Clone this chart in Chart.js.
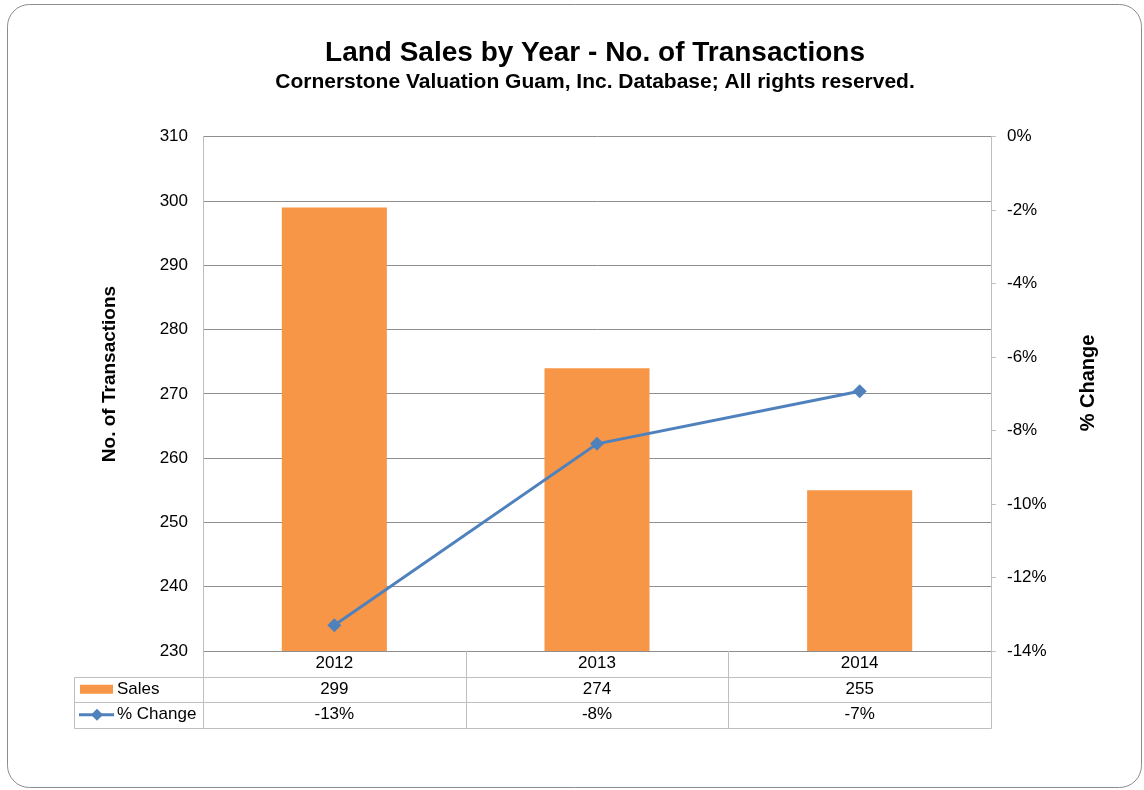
<!DOCTYPE html>
<html>
<head>
<meta charset="utf-8">
<script src="https://cdn.jsdelivr.net/npm/chart.js@4/dist/chart.umd.min.js"></script>
<style>
  html, body { margin: 0; padding: 0; background: #fff; }
  #wrap { width: 1144px; height: 790px; position: relative; }
</style>
</head>
<body>
<div id="wrap"><canvas id="c" width="1144" height="790"></canvas></div>
<script>
const years = ['2012', '2013', '2014'];
const sales = [299, 274, 255];
const pctChange = [-13.3, -8.36, -6.93];
const pctLabels = ['-13%', '-8%', '-7%'];
const seriesNames = ['Sales', '% Change'];

const ORANGE = '#F79646';
const BLUE = '#4F81BD';
const FONT = '"Liberation Sans", Arial, sans-serif';

// table rows under the plot (category row, Sales, % Change)
const tableLeft = 74;
const rowH = 25.5;

const decor = {
    id: 'decor',
    beforeDraw(chart) {
        const ctx = chart.ctx;
        ctx.save();
        ctx.strokeStyle = '#8c8c8c';
        ctx.lineWidth = 1;
        ctx.beginPath();
        ctx.roundRect(7.5, 4.5, 1134, 783, 22);
        ctx.stroke();
        ctx.restore();
    },
    afterDraw(chart) {
        const ctx = chart.ctx;
        const area = chart.chartArea;
        const x = chart.scales.x;
        const n = years.length;
        const colW = (area.right - area.left) / n;
        const top = area.bottom;

        ctx.save();
        // axis titles
        ctx.fillStyle = '#000';
        ctx.textAlign = 'center';
        ctx.textBaseline = 'middle';
        ctx.font = 'bold 19px ' + FONT;
        ctx.translate(110, 374);
        ctx.rotate(-Math.PI / 2);
        ctx.fillText('No. of Transactions', 0, 0);
        ctx.setTransform(1, 0, 0, 1, 0, 0);
        ctx.font = 'bold 20px ' + FONT;
        ctx.translate(1088, 383);
        ctx.rotate(-Math.PI / 2);
        ctx.fillText('% Change', 0, 0);
        ctx.setTransform(1, 0, 0, 1, 0, 0);

        // table grid
        ctx.strokeStyle = '#bfbfbf';
        ctx.lineWidth = 1;
        ctx.beginPath();
        const y1 = Math.round(top + rowH) + 0.5;
        const y2 = Math.round(top + rowH * 2) + 0.5;
        const y3 = Math.round(top + rowH * 3) + 0.5;
        [y1, y2, y3].forEach(yy => {
            ctx.moveTo(tableLeft + 0.5, yy);
            ctx.lineTo(area.right + 0.5, yy);
        });
        ctx.moveTo(tableLeft + 0.5, y1);
        ctx.lineTo(tableLeft + 0.5, y3);
        for (let i = 0; i <= n; i++) {
            const xx = Math.round(area.left + colW * i) + 0.5;
            ctx.moveTo(xx, top);
            ctx.lineTo(xx, y3);
        }
        ctx.stroke();

        // cell text
        ctx.fillStyle = '#000';
        ctx.font = '17px ' + FONT;
        ctx.textAlign = 'center';
        ctx.textBaseline = 'middle';
        years.forEach((yr, i) => {
            const cx = x.getPixelForValue(i);
            ctx.fillText(yr, cx, top + rowH * 0.5);
            ctx.fillText(String(sales[i]), cx, top + rowH * 1.5);
            ctx.fillText(pctLabels[i], cx, top + rowH * 2.5);
        });

        // legend keys
        ctx.textAlign = 'left';
        ctx.fillText(seriesNames[0], 117, top + rowH * 1.5);
        ctx.fillText(seriesNames[1], 117, top + rowH * 2.5);
        ctx.fillStyle = ORANGE;
        ctx.fillRect(80, top + rowH * 1.5 - 4.5, 33, 9);
        const ly = top + rowH * 2.5;
        ctx.strokeStyle = BLUE;
        ctx.lineWidth = 3;
        ctx.beginPath();
        ctx.moveTo(79, ly);
        ctx.lineTo(114, ly);
        ctx.stroke();
        ctx.fillStyle = BLUE;
        ctx.beginPath();
        ctx.moveTo(97, ly - 6);
        ctx.lineTo(103, ly);
        ctx.lineTo(97, ly + 6);
        ctx.lineTo(91, ly);
        ctx.closePath();
        ctx.fill();
        ctx.restore();
    }
};

new Chart(document.getElementById('c'), {
    data: {
        labels: years,
        datasets: [
            {
                type: 'line',
                label: seriesNames[1],
                data: pctChange,
                yAxisID: 'y1',
                borderColor: BLUE,
                backgroundColor: BLUE,
                borderWidth: 3,
                pointStyle: 'rectRot',
                pointRadius: 7,
                pointBorderWidth: 0,
                tension: 0,
                order: 0
            },
            {
                type: 'bar',
                label: seriesNames[0],
                data: sales,
                yAxisID: 'y',
                backgroundColor: ORANGE,
                barPercentage: 0.4,
                categoryPercentage: 1,
                order: 1
            }
        ]
    },
    options: {
        responsive: false,
        animation: false,
        layout: { padding: { left: 46, right: 0, top: 0, bottom: 139 } },
        scales: {
            x: {
                display: false,
                offset: true
            },
            y: {
                position: 'left',
                min: 230,
                max: 310,
                ticks: {
                    stepSize: 10,
                    padding: 15,
                    color: '#000',
                    font: { family: FONT, size: 17 }
                },
                grid: { color: '#8e8e8e', drawTicks: false },
                border: { color: '#bfbfbf' },
                afterFit(scale) { scale.width = 157; }
            },
            y1: {
                position: 'right',
                min: -14,
                max: 0,
                ticks: {
                    stepSize: 2,
                    padding: 11,
                    color: '#000',
                    font: { family: FONT, size: 17 },
                    callback: v => v + '%'
                },
                grid: { drawOnChartArea: false, drawTicks: true, tickLength: 5, color: '#bfbfbf' },
                border: { color: '#bfbfbf' },
                afterFit(scale) { scale.width = 153; }
            }
        },
        plugins: {
            legend: { display: false },
            tooltip: { enabled: false },
            title: {
                display: true,
                text: 'Land Sales by Year - No. of Transactions',
                color: '#000',
                font: { family: FONT, size: 28, weight: 'bold' },
                padding: { top: 36, bottom: 0 }
            },
            subtitle: {
                display: true,
                text: 'Cornerstone Valuation Guam, Inc. Database; All rights reserved.',
                color: '#000',
                font: { family: FONT, size: 21, weight: 'bold' },
                padding: { top: 0, bottom: 42 }
            }
        }
    },
    plugins: [decor]
});
</script>
</body>
</html>
